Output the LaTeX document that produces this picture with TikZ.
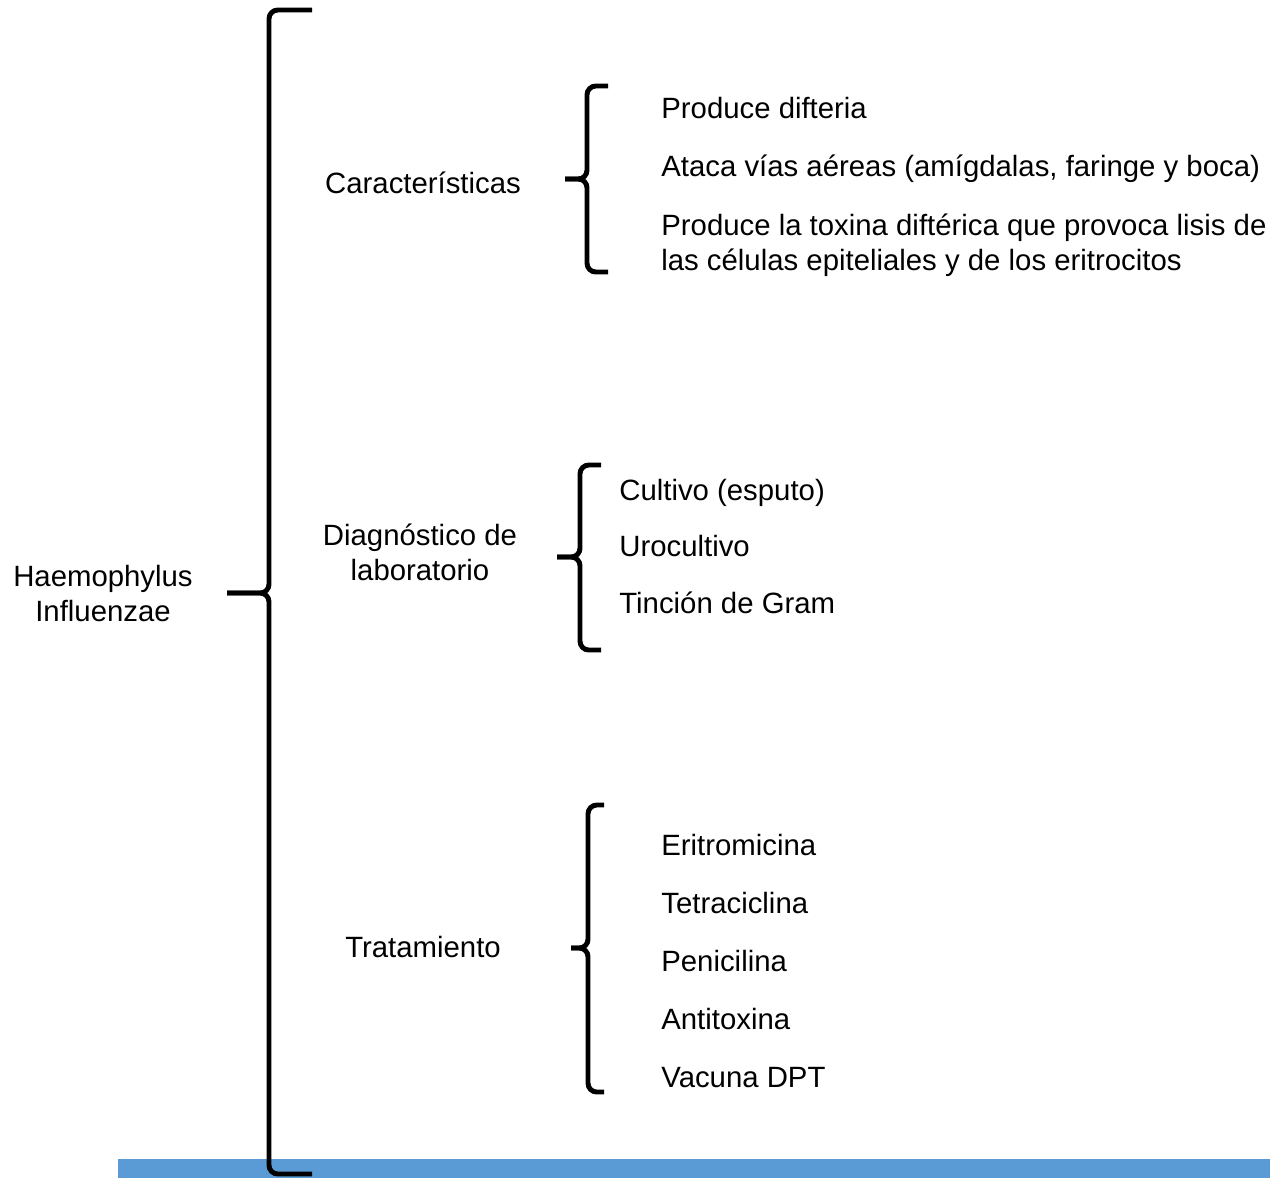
\documentclass[tikz,border=0pt]{standalone}
\usepackage{fontspec}
\setmainfont{Liberation Sans}
\usepackage{tikz}
\definecolor{barblue}{RGB}{91,155,213}
% brace: x, top, tip y, bottom, tip x, end x
\newcommand{\bracepath}[6]{%
  \draw[bracket] (#6,#2) -- (#1,#2) -- (#1,#3) -- (#5,#3);
  \draw[bracket] (#5,#3) -- (#1,#3) -- (#1,#4) -- (#6,#4);}
\begin{document}
\begin{tikzpicture}[x=0.02cm, y=-0.02cm, every node/.style={inner sep=0pt, font=\fontsize{16.7}{20.4}\selectfont, text height=0.75em, text depth=0.2em}, item/.style={anchor=west, align=left}, topic/.style={align=center}, bracket/.style={line width=2.8pt, rounded corners=5pt}]
  \useasboundingbox (0,0) rectangle (1270,1178);
  \fill[barblue] (118,1159) rectangle (1270,1178);
  % main brace
  \bracepath{269}{10}{593}{1174}{227}{312}
  \node[topic](root) at (103,617){Haemophylus\\Influenzae};
  % caracteristicas
  \bracepath{587}{86}{179}{272}{565}{608}
  \node[topic](carac) at (423,189){Características};
  \node[item](c1) at (661,114){Produce difteria};
  \node[item](c2) at (661,172){Ataca vías aéreas (amígdalas, faringe y boca)};
  \node[item](c3) at (661,266){Produce la toxina diftérica que provoca lisis de\\las células epiteliales y de los eritrocitos};
  % diagnostico
  \bracepath{580}{465}{557}{650}{557}{601}
  \node[topic](diag) at (420,576){Diagnóstico de\\laboratorio};
  \node[item](d1) at (619,496){Cultivo (esputo)};
  \node[item](d2) at (619,552){Urocultivo};
  \node[item](d3) at (619,609){Tinción de Gram};
  % tratamiento
  \bracepath{588}{805}{948}{1092}{571}{604}
  \node[topic](trat) at (423,953){Tratamiento};
  \foreach \name [count=\i] in {Eritromicina, Tetraciclina, Penicilina, Antitoxina, Vacuna DPT}
    \node[item](t\i) at (661,793+58*\i){\name};
\end{tikzpicture}
\end{document}
